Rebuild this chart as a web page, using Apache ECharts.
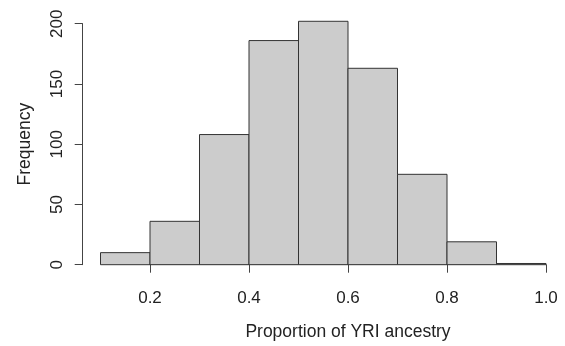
<!DOCTYPE html>
<html>
<head>
<meta charset="utf-8">
<script src="https://cdn.jsdelivr.net/npm/echarts@6/dist/echarts.min.js"></script>
<style>
  html, body { margin: 0; padding: 0; background: #fff; }
  #chart { width: 565px; height: 346px; }
</style>
</head>
<body>
<div id="chart"></div>
<script>
// Histogram bins (left/right edges) and counts
const binStarts = [0.1, 0.2, 0.3, 0.4, 0.5, 0.6, 0.7, 0.8, 0.9];
const binEnds   = [0.2, 0.3, 0.4, 0.5, 0.6, 0.7, 0.8, 0.9, 1.0];
const counts    = [10, 36, 108, 186, 202, 163, 75, 19, 1];

const xTitle = 'Proportion of YRI ancestry';
const yTitle = 'Frequency';

const data = binStarts.map((s, i) => [s, binEnds[i], counts[i]]);

const chart = echarts.init(document.getElementById('chart'), null, { renderer: 'canvas' });
const font = 'Liberation Sans, Arial, Helvetica, sans-serif';

chart.setOption({
  animation: false,
  backgroundColor: '#ffffff',
  grid: { left: 150, right: 19, top: 23.7, bottom: 81 },
  xAxis: {
    type: 'value',
    min: 0.2, max: 1.0, interval: 0.2,
    offset: 9.3,
    name: xTitle,
    nameLocation: 'middle',
    nameGap: 49,
    nameTextStyle: { fontFamily: font, fontSize: 17.5, color: '#222' },
    axisLine: { show: true, lineStyle: { color: '#444', width: 1 } },
    axisTick: { show: true, length: 8, lineStyle: { color: '#444' } },
    axisLabel: { fontFamily: font, fontSize: 17, color: '#222', margin: 16,
      formatter: v => v.toFixed(1) },
    splitLine: { show: false }
  },
  yAxis: {
    type: 'value',
    min: 0, max: 200, interval: 50,
    offset: 67.3,
    name: yTitle,
    nameLocation: 'middle',
    nameGap: 49,
    nameTextStyle: { fontFamily: font, fontSize: 17.5, color: '#222' },
    axisLine: { show: true, lineStyle: { color: '#444', width: 1 } },
    axisTick: { show: true, length: 8, lineStyle: { color: '#444' } },
    axisLabel: { fontFamily: font, fontSize: 17, color: '#222', margin: 17, rotate: 90 },
    splitLine: { show: false }
  },
  series: [{
    type: 'custom',
    clip: false,
    data: data,
    encode: { x: [0, 1], y: 2 },
    renderItem: function (params, api) {
      const p0 = api.coord([api.value(0), 0]);
      const p1 = api.coord([api.value(1), api.value(2)]);
      return {
        type: 'rect',
        shape: { x: p0[0], y: p1[1], width: p1[0] - p0[0], height: p0[1] - p1[1] },
        style: { fill: '#cccccc', stroke: '#333333', lineWidth: 1 }
      };
    }
  }]
});
</script>
</body>
</html>
